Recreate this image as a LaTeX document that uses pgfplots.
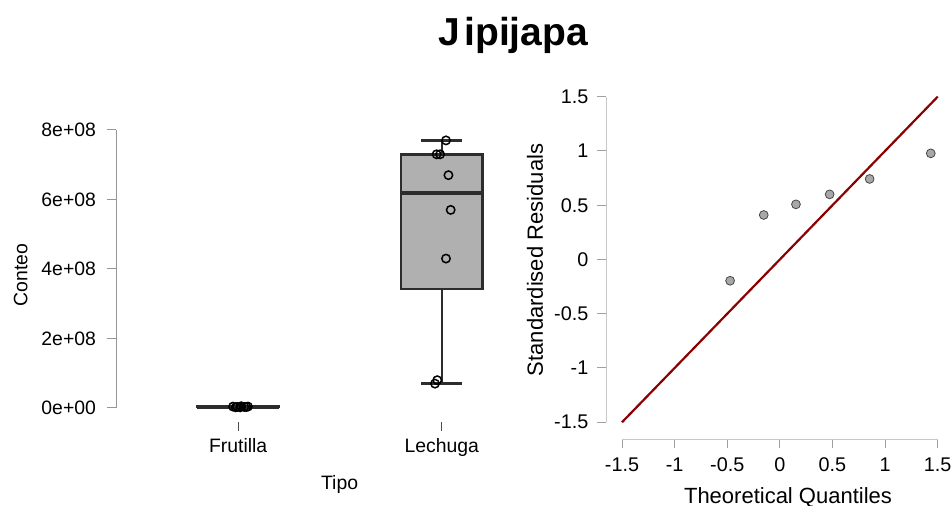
\documentclass[border=0pt]{standalone}
\usepackage{pgfplots}
\pgfplotsset{compat=1.18}
\usepgfplotslibrary{statistics}
\usepackage{fontspec}
\setmainfont{Liberation Sans}
\definecolor{boxfill}{RGB}{176,176,176}
\definecolor{boxdraw}{RGB}{45,45,45}
\definecolor{axgray}{RGB}{150,150,150}
\definecolor{qqaxis}{RGB}{200,200,200}
\definecolor{qqtick}{RGB}{160,160,160}
\definecolor{qqline}{RGB}{139,0,0}
\definecolor{ptfill}{RGB}{168,168,168}
\definecolor{ptdraw}{RGB}{70,70,70}
\begin{document}
\begin{tikzpicture}
\useasboundingbox (0,0) rectangle (476pt,253pt);
% ---------------- Left: boxplot (values in units of 1e8) ----------------
\begin{axis}[
  at={(58pt,42pt)}, anchor=south west, scale only axis,
  width=193.4pt, height=146pt,
  xmin=-0.6, xmax=1.3, ymin=-0.403, ymax=8,
  axis x line*=bottom, axis y line*=left,
  axis line style={draw=none},
  clip=false,
  boxplot/draw direction=y,
  boxplot/every box/.style={draw=boxdraw, fill=boxfill, line width=1.2pt},
  boxplot/every whisker/.style={draw=boxdraw, line width=1.2pt},
  boxplot/every median/.style={draw=boxdraw, line width=2pt},
  xtick={0,1}, xticklabels={Frutilla,Lechuga},
  ytick={0,2,4,6,8}, yticklabels={0e+00,2e+08,4e+08,6e+08,8e+08},
  tick align=outside, major tick length=4.5pt,
  xtick style={draw=black!70, line width=0.5pt},
  ytick style={draw=axgray, line width=0.5pt},
  /pgf/number format/assume math mode=true,
  ticklabel style={font=\fontsize{9.7}{11}\selectfont},
  xticklabel style={anchor=base, yshift=-11pt},
  yticklabel style={anchor=east, xshift=-2pt},
]
\draw[axgray, line width=0.5pt] (axis cs:-0.6,0) -- (axis cs:-0.6,8);
% Frutilla
\addplot[boxplot prepared={draw position=0, lower whisker=0.005, lower quartile=0.02,
    median=0.03, upper quartile=0.04, upper whisker=0.06,
    box extend=0.4, whisker extend=0.2},
  draw=boxdraw, fill=boxfill, line width=1.2pt] coordinates {};
% Lechuga
\addplot[boxplot prepared={draw position=1, lower whisker=0.7, lower quartile=3.425,
    median=6.2, upper quartile=7.3, upper whisker=7.7,
    box extend=0.4, whisker extend=0.2},
  draw=boxdraw, fill=boxfill, line width=1.2pt] coordinates {};
% jittered points
\addplot[only marks, mark=o, mark size=2.1pt, mark options={draw=black, line width=0.75pt}]
  coordinates {
  (-0.025,0.04) (0.01,0.02) (0.048,0.04) (-0.005,0.03) (0.015,0.05) (0.03,0.03) (-0.012,0.02) (0.04,0.03)
  (1.021,7.7) (0.975,7.3) (0.992,7.3) (1.033,6.7) (1.044,5.7) (1.021,4.3) (0.967,0.7) (0.978,0.8)
  };
\end{axis}
% ---------------- Right: Q-Q plot ----------------
\begin{axis}[
  at={(303pt,33.35pt)}, anchor=south west, scale only axis,
  width=165.85pt, height=171.3pt,
  xmin=-1.652, xmax=1.5, ymin=-1.657, ymax=1.5,
  axis x line*=bottom, axis y line*=left,
  axis line style={draw=none},
  clip=false,
  xtick={-1.5,-1,-0.5,0,0.5,1,1.5}, xticklabels={-1.5,-1,-0.5,0,0.5,1,1.5},
  ytick={-1.5,-1,-0.5,0,0.5,1,1.5}, yticklabels={-1.5,-1,-0.5,0,0.5,1,1.5},
  tick align=outside, major tick length=4.3pt,
  tick style={draw=qqtick, line width=0.5pt},
  /pgf/number format/assume math mode=true,
  ticklabel style={font=\fontsize{9.9}{11}\selectfont},
  xticklabel style={anchor=base, yshift=-12pt},
  yticklabel style={anchor=east, xshift=-1pt},
]
\draw[qqaxis, line width=0.5pt] (axis cs:-1.652,-1.5) -- (axis cs:-1.652,1.5);
\draw[qqaxis, line width=0.5pt] (axis cs:-1.5,-1.657) -- (axis cs:1.5,-1.657);
\addplot[qqline, line width=1.1pt] coordinates {(-1.5,-1.5) (1.5,1.5)};
\addplot[only marks, mark=*, mark size=2.2pt, mark options={fill=ptfill, draw=ptdraw, line width=0.4pt}]
  coordinates {(-0.473,-0.196) (-0.153,0.41) (0.153,0.508) (0.473,0.60) (0.853,0.742) (1.434,0.978)};
\end{axis}
% ---------------- Titles and axis labels ----------------
\node[font=\bfseries\fontsize{19.5}{22}\selectfont, anchor=base] at (256.5pt,230pt) {J\hspace{0.12em}ipijapa};
\node[font=\fontsize{9.7}{11}\selectfont, rotate=90] at (10.4pt,115.5pt) {Conteo};
\node[font=\fontsize{9.7}{11}\selectfont, anchor=base] at (169.8pt,8.4pt) {Tipo};
\node[font=\fontsize{11}{13}\selectfont, rotate=90] at (267.5pt,123pt) {Standardised Residuals};
\node[font=\fontsize{11}{13}\selectfont, anchor=base] at (394pt,1.4pt) {Theoretical Quantiles};
\end{tikzpicture}
\end{document}
